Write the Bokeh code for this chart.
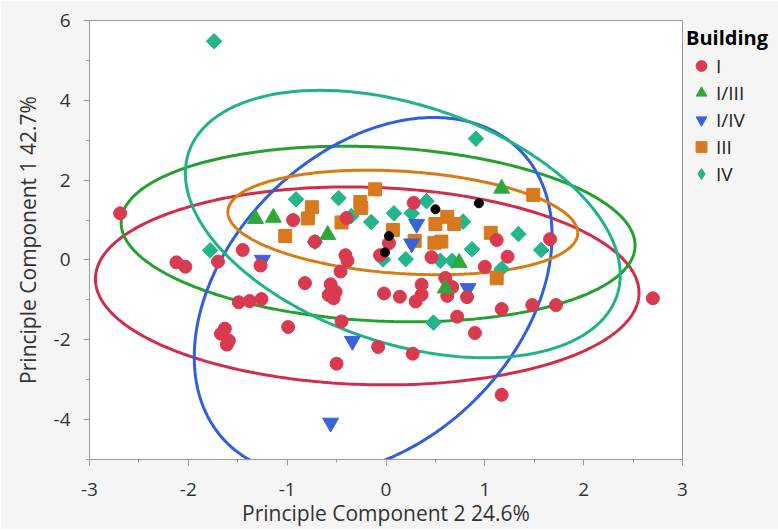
import numpy as np
from bokeh.plotting import figure
from bokeh.models import Range1d, Legend, LegendItem, SingleIntervalTicker, CustomJSTickFormatter
from bokeh.embed import file_html
from bokeh.resources import INLINE

# ---- data ----
groups = ["I", "I/III", "I/IV", "III", "IV"]

b1_x = [-2.69, -0.94, -0.40, -0.72, 0.28, -1.45, -1.70, -2.12, -2.03, -1.27, -0.41, -0.39, -0.46,
        -0.06, 0.03, 1.12, 1.66, 1.23, 0.46, 1.00, 0.60, 0.36, 0.67, -1.49, -1.38, -1.26, -1.63,
        -1.67, -1.59, -1.61, -0.99, -0.82, -0.56, -0.58, -0.53, -0.51, -0.45, -0.08, -0.50, -0.02,
        0.14, 0.30, 0.36, 0.62, 0.82, 1.17, 1.48, 1.72, 2.70, 0.72, 0.90, 0.27, 1.17]
b1_y = [1.17, 1.00, 1.05, 0.46, 1.43, 0.25, -0.04, -0.06, -0.17, -0.14, 0.12, -0.02, -0.29,
        0.12, 0.42, 0.50, 0.52, 0.08, 0.07, -0.17, -0.45, -0.62, -0.68, -1.06, -1.03, -0.98, -1.72,
        -1.85, -2.02, -2.12, -1.68, -0.58, -0.61, -0.88, -0.96, -0.80, -1.54, -2.18, -2.60, -0.84,
        -0.92, -1.04, -0.87, -0.90, -0.93, -1.23, -1.13, -1.13, -0.96, -1.42, -1.83, -2.35, -3.38]

b13_x = [-1.32, -1.14, -0.59, 1.17, 0.74, 0.60]
b13_y = [1.03, 1.06, 0.63, 1.79, -0.07, -0.71]

b14_x = [-1.25, 0.31, 0.26, 0.83, -0.34, -0.56]
b14_y = [0.00, 0.90, 0.41, -0.71, -2.03, -4.08]

b3_x = [-0.11, -0.26, -0.25, -0.75, -0.79, -0.45, -1.02, 1.49, 0.62, 0.69, 0.50, 1.06, 0.07,
        0.29, 0.49, 0.56, 1.12]
b3_y = [1.77, 1.45, 1.30, 1.32, 1.04, 0.94, 0.60, 1.63, 1.08, 0.90, 0.90, 0.68, 0.75,
        0.48, 0.43, 0.46, -0.46]

b4_x = [-1.74, -0.91, -0.48, -0.35, -0.15, -0.72, -1.78, 0.91, 0.41, 0.08, 0.26, 0.78, 1.34,
        0.87, 1.57, 0.20, 0.55, 0.67, 1.17, 0.48, -0.03]
b4_y = [5.48, 1.52, 1.55, 1.10, 0.95, 0.45, 0.24, 3.04, 1.47, 1.17, 1.17, 0.96, 0.65,
        0.27, 0.25, 0.02, -0.02, -0.02, -0.22, -1.57, 0.01]

missing_x = [0.03, -0.01, 0.50, 0.94]
missing_y = [0.60, 0.19, 1.27, 1.42]

# density ellipse parameters per group: centre, x half-extent, y half-extent, correlation
ell_cx = [-0.19, -0.08, -0.13, 0.17, 0.17]
ell_cy = [-0.65, 0.65, -0.91, 0.94, 0.90]
ell_rx = [2.75, 2.60, 1.81, 1.77, 2.20]
ell_ry = [2.48, 2.20, 4.48, 1.31, 3.35]
ell_rho = [-0.07, -0.13, 0.34, -0.20, -0.38]

colors = ["#d93a50", "#2ea83a", "#3a62db", "#d8791e", "#22b68a"]
ell_colors = ["#d42a4c", "#25a02f", "#2f5fe0", "#d97a12", "#1fb38a"]

FONT = "Open Sans"

p = figure(frame_width=593, frame_height=439,
           x_range=Range1d(-3, 3), y_range=Range1d(-5, 6),
           output_backend="svg", toolbar_location=None,
           min_border_left=89, min_border_top=20, min_border_bottom=60, min_border_right=0,
           background_fill_color="white", border_fill_color="#f5f5f5")
p.grid.visible = False
p.outline_line_color = "#9a9a9a"
p.outline_line_width = 1

# ellipses
t = np.linspace(0, 2 * np.pi, 400)
for cx, cy, rx, ry, rho, c in zip(ell_cx, ell_cy, ell_rx, ell_ry, ell_rho, ell_colors):
    ex = cx + rx * np.cos(t)
    ey = cy + ry * (rho * np.cos(t) + np.sqrt(1 - rho ** 2) * np.sin(t))
    p.line(ex, ey, line_color=c, line_width=3)

r4 = p.scatter(b4_x, b4_y, marker="square", angle=np.pi / 4, size=11,
               fill_color=colors[4], line_color=colors[4])
r3 = p.scatter(b3_x, b3_y, marker="square", size=13, fill_color=colors[3], line_color=colors[3])
r14 = p.scatter(b14_x, b14_y, marker="inverted_triangle", size=16,
                fill_color=colors[2], line_color=colors[2])
r1 = p.scatter(b1_x, b1_y, marker="circle", size=13, fill_color=colors[0], line_color=colors[0])
r13 = p.scatter(b13_x, b13_y, marker="triangle", size=16, fill_color=colors[1], line_color=colors[1])
p.scatter(missing_x, missing_y, marker="circle", size=9, fill_color="black", line_color="black")

# legend-only diamond glyph (NaN position, so nothing is drawn in the plot)
r4_leg = p.scatter([np.nan], [np.nan], marker="diamond", size=16,
                   fill_color=colors[4], line_color=colors[4])

# axes
p.xaxis.ticker = SingleIntervalTicker(interval=1, num_minor_ticks=2)
p.yaxis.ticker = SingleIntervalTicker(interval=2, num_minor_ticks=2)
p.xaxis.axis_label = "Principle Component 2 24.6%"
p.yaxis.axis_label = "Principle Component 1 42.7%"
for ax in (p.xaxis, p.yaxis):
    ax.formatter = CustomJSTickFormatter(code="return tick.toFixed(0);")
    ax.axis_line_color = "#9a9a9a"
    ax.major_tick_line_color = "#9a9a9a"
    ax.minor_tick_line_color = "#9a9a9a"
    ax.major_tick_out = 6
    ax.major_tick_in = 0
    ax.minor_tick_out = 3
    ax.minor_tick_in = 0
    ax.major_label_text_font = FONT
    ax.major_label_text_font_size = "19px"
    ax.major_label_text_color = "#333333"
    ax.axis_label_text_font = FONT
    ax.axis_label_text_font_size = "21px"
    ax.axis_label_text_font_style = "normal"
    ax.axis_label_text_color = "#333333"
p.xaxis.major_label_standoff = 17
p.xaxis.axis_label_standoff = 0
p.yaxis.major_label_standoff = 13
p.yaxis.axis_label_standoff = 9

legend = Legend(items=[LegendItem(label=g, renderers=[r]) for g, r in
                       zip(groups, [r1, r13, r14, r3, r4_leg])],
                title="Building", location="top_left")
legend.title_text_font = FONT
legend.title_text_font_style = "bold"
legend.title_text_font_size = "20px"
legend.title_text_color = "black"
legend.title_standoff = 1
legend.label_text_font = FONT
legend.label_text_font_size = "19px"
legend.label_text_color = "#222222"
legend.glyph_width = 30
legend.glyph_height = 27
legend.spacing = 0
legend.label_standoff = 0
legend.padding = 1
legend.margin = 3
legend.border_line_alpha = 0
legend.background_fill_alpha = 0
p.add_layout(legend, "right")

open("out.html", "w").write(file_html(p, INLINE))
